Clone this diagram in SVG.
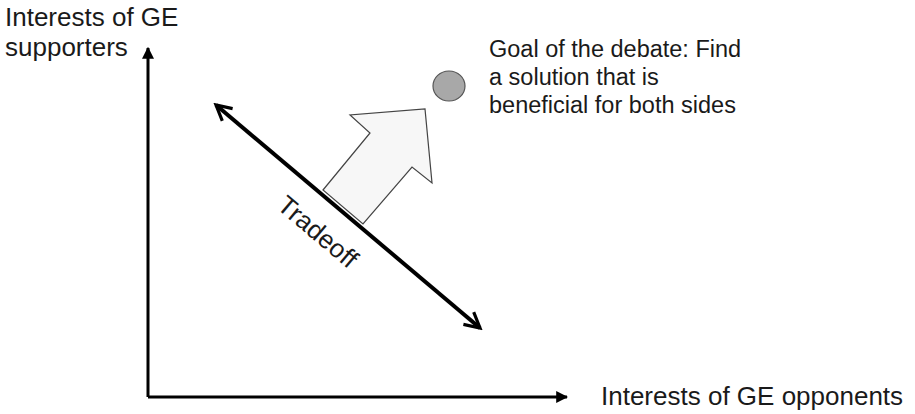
<svg xmlns="http://www.w3.org/2000/svg" width="915" height="414" viewBox="0 0 915 414">
<style>
.lbl{font-family:"Liberation Sans",Arial,sans-serif;font-size:26px;fill:#1a1a1a}
.goal{font-family:"Liberation Sans",Arial,sans-serif;font-size:23.5px;fill:#1a1a1a}
.axis{stroke:#000;stroke-width:3;fill:none}
.trade{stroke:#000;stroke-width:4;fill:none}
</style>
<defs>
<marker id="axHead" viewBox="0 0 10 10" refX="9" refY="5" markerWidth="4" markerHeight="4" orient="auto" markerUnits="strokeWidth">
<path d="M0,0 L10,5 L0,10 z" fill="#000"/>
</marker>
<marker id="openHead" viewBox="0 0 10 10" refX="8.5" refY="5" markerWidth="5" markerHeight="5" orient="auto-start-reverse" markerUnits="strokeWidth">
<path d="M1,1 L8.5,5 L1,9" fill="none" stroke="#000" stroke-width="1.6" stroke-linejoin="miter"/>
</marker>
</defs>
<g id="connectors">
<path class="axis" d="M148,397 L148,48" marker-end="url(#axHead)"/>
<path class="axis" d="M148,397 L567,397" marker-end="url(#axHead)"/>
<path class="trade" d="M216,105 L480,328" marker-start="url(#openHead)" marker-end="url(#openHead)"/>
</g>
<g id="block-arrow">
<polygon points="323,190 370,133 350,115 425,109 432,183 412,167 363,224" fill="#f7f7f7" stroke="#444" stroke-width="1.2" stroke-linejoin="miter"/>
</g>
<g id="goal">
<ellipse cx="449" cy="86" rx="16" ry="15" fill="#a8a8a8" stroke="#555" stroke-width="1.2"/>
<text class="goal" x="489" y="57">Goal of the debate: Find</text>
<text class="goal" x="489" y="85">a solution that is</text>
<text class="goal" x="489" y="113">beneficial for both sides</text>
</g>
<g id="y-label">
<text class="lbl" x="5" y="26">Interests of GE</text>
<text class="lbl" x="5" y="56">supporters</text>
</g>
<g id="x-label">
<text class="lbl" x="601" y="405">Interests of GE opponents</text>
</g>
<g id="tradeoff-label">
<text class="lbl" transform="translate(216,105) rotate(40.2)" x="112" y="40">Tradeoff</text>
</g>
</svg>
